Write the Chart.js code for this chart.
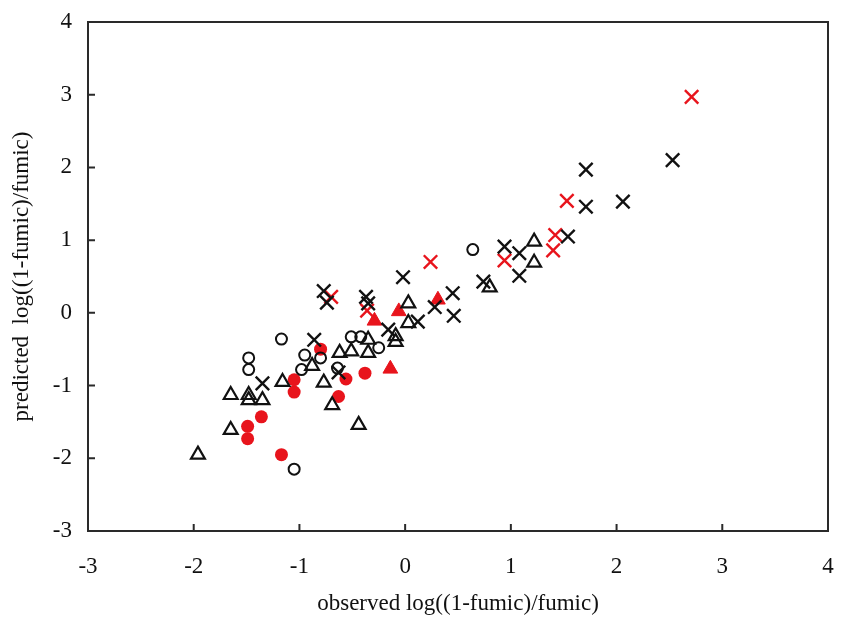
<!DOCTYPE html>
<html>
  <head>
    <title>Observed vs predicted</title>
    <script src="https://cdn.jsdelivr.net/npm/chart.js"></script>
    <style>
      html, body { margin: 0; padding: 0; background: #fff; }
    </style>
  </head>
  <body>
    <canvas id="fumicChart" width="843" height="618"></canvas>

    <script>
  // axis ticks
  const xTicks = [-3, -2, -1, 0, 1, 2, 3, 4];
  const yTicks = [-3, -2, -1, 0, 1, 2, 3, 4];

  // black open circles
  const circleX = [-1.48, -1.48, -1.17, -1.05, 0.64, -0.95, -0.98, -0.51, -0.42, -0.25, -0.64, -0.80];
  const circleY = [-0.62, -0.78, -0.36, -2.15, 0.87, -0.58, -0.78, -0.33, -0.33, -0.48, -0.76, -0.62];

  // black open triangles
  const triX = [-1.96, -1.65, -1.65, -1.48, -1.48, -1.35, -1.16, -0.88, -0.77, -0.69, -0.62, -0.51, -0.35, -0.35, -0.44, -0.09, -0.09, 0.03, 0.03, 0.80, 1.22, 1.22];
  const triY = [-1.95, -1.13, -1.61, -1.13, -1.20, -1.20, -0.95, -0.73, -0.96, -1.27, -0.55, -0.53, -0.55, -0.37, -1.54, -0.32, -0.40, 0.13, -0.14, 0.35, 0.98, 0.69];

  // black crosses
  const crossX = [-1.35, -0.86, -0.77, -0.74, -0.63, -0.37, -0.35, -0.16, -0.02, 0.12, 0.28, 0.45, 0.46, 0.74, 0.94, 1.08, 1.08, 1.54, 1.71, 1.71, 2.06, 2.53];
  const crossY = [-0.97, -0.37, 0.30, 0.14, -0.82, 0.22, 0.13, -0.23, 0.49, -0.12, 0.08, 0.27, -0.04, 0.43, 0.91, 0.82, 0.51, 1.05, 1.97, 1.46, 1.53, 2.10];

  // red filled circles
  const redCircleX = [-1.36, -1.49, -1.49, -1.17, -1.05, -1.05, -0.56, -0.38, -0.63, -0.80];
  const redCircleY = [-1.43, -1.56, -1.73, -1.95, -1.09, -0.92, -0.91, -0.83, -1.15, -0.50];

  // red filled triangles
  const redTriX = [-0.29, -0.06, 0.31, -0.14];
  const redTriY = [-0.11, 0.02, 0.18, -0.77];

  // red crosses
  const redCrossX = [2.71, 1.53, 1.42, 1.40, 0.94, 0.24, -0.70, -0.36];
  const redCrossY = [2.97, 1.54, 1.07, 0.86, 0.72, 0.70, 0.22, 0.03];

  const pts = (xs, ys) => xs.map((x, i) => ({ x: x, y: ys[i] }));

  const RED = '#e8141c';
  const INK = '#111111';
  const serif = '"Liberation Serif", "DejaVu Serif", serif';

  // frame and inward tick marks
  const framePlugin = {
    id: 'frame',
    afterDraw(chart) {
      const { ctx, chartArea: a, scales } = chart;
      ctx.save();
      ctx.strokeStyle = '#2a2a2a';
      ctx.lineWidth = 2;
      ctx.strokeRect(a.left, a.top, a.right - a.left, a.bottom - a.top);
      ctx.beginPath();
      xTicks.slice(1, -1).forEach(v => {
        const px = scales.x.getPixelForValue(v);
        ctx.moveTo(px, a.bottom);
        ctx.lineTo(px, a.bottom - 7);
      });
      yTicks.slice(1, -1).forEach(v => {
        const py = scales.y.getPixelForValue(v);
        ctx.moveTo(a.left, py);
        ctx.lineTo(a.left + 7, py);
      });
      ctx.stroke();
      ctx.restore();
    }
  };

  new Chart(document.getElementById('fumicChart'), {
    type: 'scatter',
    data: {
      datasets: [
        { label: 'circle', data: pts(circleX, circleY), pointStyle: 'circle', radius: 5.5, borderColor: INK, backgroundColor: 'rgba(0,0,0,0)', borderWidth: 2 },
        { label: 'triangle', data: pts(triX, triY), pointStyle: 'triangle', radius: 8, borderColor: INK, backgroundColor: 'rgba(0,0,0,0)', borderWidth: 2.2 },
        { label: 'cross', data: pts(crossX, crossY), pointStyle: 'crossRot', radius: 9.5, borderColor: INK, borderWidth: 2.4 },
        { label: 'red circle', data: pts(redCircleX, redCircleY), pointStyle: 'circle', radius: 6.5, borderColor: RED, backgroundColor: RED, borderWidth: 0 },
        { label: 'red triangle', data: pts(redTriX, redTriY), pointStyle: 'triangle', radius: 8.5, borderColor: RED, backgroundColor: RED, borderWidth: 1 },
        { label: 'red cross', data: pts(redCrossX, redCrossY), pointStyle: 'crossRot', radius: 9.5, borderColor: RED, borderWidth: 2.4 }
      ]
    },
    options: {
      responsive: false,
      animation: false,
      layout: { padding: { top: 22, right: 15, left: 0, bottom: 0 } },
      plugins: {
        legend: { display: false },
        tooltip: { enabled: false }
      },
      scales: {
        x: {
          type: 'linear',
          min: -3, max: 4,
          afterBuildTicks: s => { s.ticks = xTicks.map(v => ({ value: v })); },
          afterFit: s => { s.height = 87; s.paddingLeft = 0; s.paddingRight = 0; },
          grid: { display: false, drawTicks: false },
          border: { display: false },
          ticks: { color: INK, font: { family: serif, size: 23 }, padding: 22, maxRotation: 0 },
          title: { display: true, text: 'observed log((1-fumic)/fumic)', color: INK, font: { family: serif, size: 23 }, padding: { top: 4, bottom: 0 } }
        },
        y: {
          type: 'linear',
          min: -3, max: 4,
          afterBuildTicks: s => { s.ticks = yTicks.map(v => ({ value: v })); },
          afterFit: s => { s.width = 88; s.paddingTop = 0; s.paddingBottom = 0; },
          grid: { display: false, drawTicks: false },
          border: { display: false },
          ticks: { color: INK, font: { family: serif, size: 23 }, padding: 16 },
          title: { display: true, text: 'predicted  log((1-fumic)/fumic)', color: INK, font: { family: serif, size: 23 }, padding: { top: 8, bottom: 4 } }
        }
      }
    },
    plugins: [framePlugin]
  });
</script>
  </body>
</html>
